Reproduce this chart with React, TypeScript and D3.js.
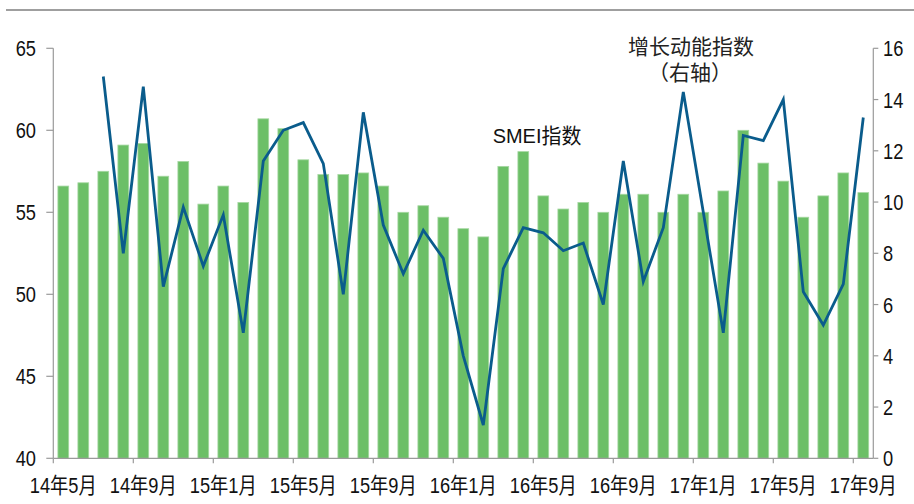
import React, { useRef, useEffect } from 'react';
import * as d3 from 'd3';

// months 14年5月 .. 17年9月
const months = [
  '14年5月', '14年6月', '14年7月', '14年8月', '14年9月', '14年10月', '14年11月', '14年12月',
  '15年1月', '15年2月', '15年3月', '15年4月', '15年5月', '15年6月', '15年7月', '15年8月',
  '15年9月', '15年10月', '15年11月', '15年12月', '16年1月', '16年2月', '16年3月', '16年4月',
  '16年5月', '16年6月', '16年7月', '16年8月', '16年9月', '16年10月', '16年11月', '16年12月',
  '17年1月', '17年2月', '17年3月', '17年4月', '17年5月', '17年6月', '17年7月', '17年8月', '17年9月',
];

// SMEI指数 (left axis)
const smei = [
  56.6, 56.8, 57.5, 59.1, 59.2, 57.2, 58.1, 55.5,
  56.6, 55.6, 60.7, 60.1, 58.2, 57.3, 57.3, 57.4,
  56.6, 55.0, 55.4, 54.7, 54.0, 53.5, 57.8, 58.7,
  56.0, 55.2, 55.6, 55.0, 56.1, 56.1, 55.0, 56.1,
  55.0, 56.3, 60.0, 58.0, 56.9, 54.7, 56.0, 57.4, 56.2,
];

// 增长动能指数 (right axis), starts at 14年7月
const momentum = [
  null, null, 14.9, 8.0, 14.5, 6.7, 9.8, 7.5,
  9.5, 4.9, 11.6, 12.8, 13.1, 11.5, 6.4, 13.5,
  9.1, 7.2, 8.9, 7.8, 4.0, 1.3, 7.4, 9.0,
  8.8, 8.1, 8.4, 6.0, 11.6, 6.9, 9.0, 14.3,
  9.6, 4.9, 12.6, 12.4, 14.0, 6.5, 5.2, 6.8, 13.3,
];

const leftTicks = [40, 45, 50, 55, 60, 65];
const rightTicks = [0, 2, 4, 6, 8, 10, 12, 14, 16];
const xLabelMonths = ['14年5月', '14年9月', '15年1月', '15年5月', '15年9月', '16年1月', '16年5月', '16年9月', '17年1月', '17年5月', '17年9月'];

const W = 914;
const H = 504;
const FONT = '"Liberation Sans", Arial, "Noto Sans CJK SC", sans-serif';
const NARROW = 0.83; // reference type is condensed

const App = () => {
  const svgRef = useRef(null);

  useEffect(() => {
    const svg = d3.select(svgRef.current);
    svg.selectAll('*').remove();

    const left = 53.3, right = 873.3, top = 48.3, bottom = 458.3;

    const x = d3.scaleBand().domain(months).range([left, right]).padding(0);
    const yL = d3.scaleLinear().domain([40, 65]).range([bottom, top]);
    const yR = d3.scaleLinear().domain([0, 16]).range([bottom, top]);
    const bw = x.bandwidth();
    const barW = bw * 0.54;

    // condensed text helper
    const label = (g, tx, ty, str, anchor, size = 22, fill = '#111', sx = NARROW) => {
      g.append('text')
        .attr('transform', `translate(${tx},${ty}) scale(${sx},1)`)
        .attr('text-anchor', anchor)
        .attr('font-family', FONT)
        .attr('font-size', size)
        .attr('fill', fill)
        .text(str);
    };

    // top rule
    svg.append('line')
      .attr('x1', 6).attr('x2', W).attr('y1', 10).attr('y2', 10)
      .attr('stroke', '#7f7f7f').attr('stroke-width', 1.5);

    // bars
    svg.append('g').selectAll('rect')
      .data(smei)
      .enter().append('rect')
      .attr('x', (d, i) => x(months[i]) + (bw - barW) / 2)
      .attr('y', d => yL(d))
      .attr('width', barW)
      .attr('height', d => bottom - yL(d))
      .attr('fill', '#6cbf67')
      .attr('stroke', '#a6d8a2')
      .attr('stroke-width', 0.8);

    // line
    const line = d3.line()
      .defined(d => d != null)
      .x((d, i) => x(months[i]) + bw / 2)
      .y(d => yR(d));
    svg.append('path')
      .datum(momentum)
      .attr('d', line)
      .attr('fill', 'none')
      .attr('stroke', '#0a5c8c')
      .attr('stroke-width', 2.8)
      .attr('stroke-linejoin', 'miter');

    const axisColor = '#9a9a9a';

    // left axis
    const gl = svg.append('g');
    gl.append('line').attr('x1', left).attr('x2', left).attr('y1', top).attr('y2', bottom)
      .attr('stroke', axisColor).attr('stroke-width', 1.2);
    leftTicks.forEach(t => {
      gl.append('line').attr('x1', left - 7).attr('x2', left).attr('y1', yL(t)).attr('y2', yL(t))
        .attr('stroke', axisColor).attr('stroke-width', 1.2);
      label(gl, 36, yL(t) + 8, t, 'end');
    });

    // right axis
    const gr = svg.append('g');
    gr.append('line').attr('x1', right).attr('x2', right).attr('y1', top).attr('y2', bottom)
      .attr('stroke', axisColor).attr('stroke-width', 1.2);
    rightTicks.forEach(t => {
      gr.append('line').attr('x1', right).attr('x2', right + 5).attr('y1', yR(t)).attr('y2', yR(t))
        .attr('stroke', axisColor).attr('stroke-width', 1.2);
      label(gr, 883, yR(t) + 8, t, 'start');
    });

    // bottom axis
    const gb = svg.append('g');
    gb.append('line').attr('x1', left).attr('x2', right).attr('y1', bottom).attr('y2', bottom)
      .attr('stroke', axisColor).attr('stroke-width', 1.2);
    xLabelMonths.forEach(m => {
      const x0 = x(m);
      gb.append('line').attr('x1', x0).attr('x2', x0).attr('y1', bottom).attr('y2', bottom + 5)
        .attr('stroke', axisColor).attr('stroke-width', 1.2);
      label(gb, x0 + bw / 2, 493, m, 'middle');
    });

    // annotations
    label(svg, 537, 143, 'SMEI指数', 'middle', 21, '#111', 0.95);
    label(svg, 691, 54, '增长动能指数', 'middle', 21, '#222', 1);
    label(svg, 690, 80, '（右轴）', 'middle', 21, '#222', 1);
  }, []);

  return (
    <svg ref={svgRef} width={W} height={H}
      style={{ position: 'absolute', left: 0, top: 0, background: '#fff' }} />
  );
};

export default App;
